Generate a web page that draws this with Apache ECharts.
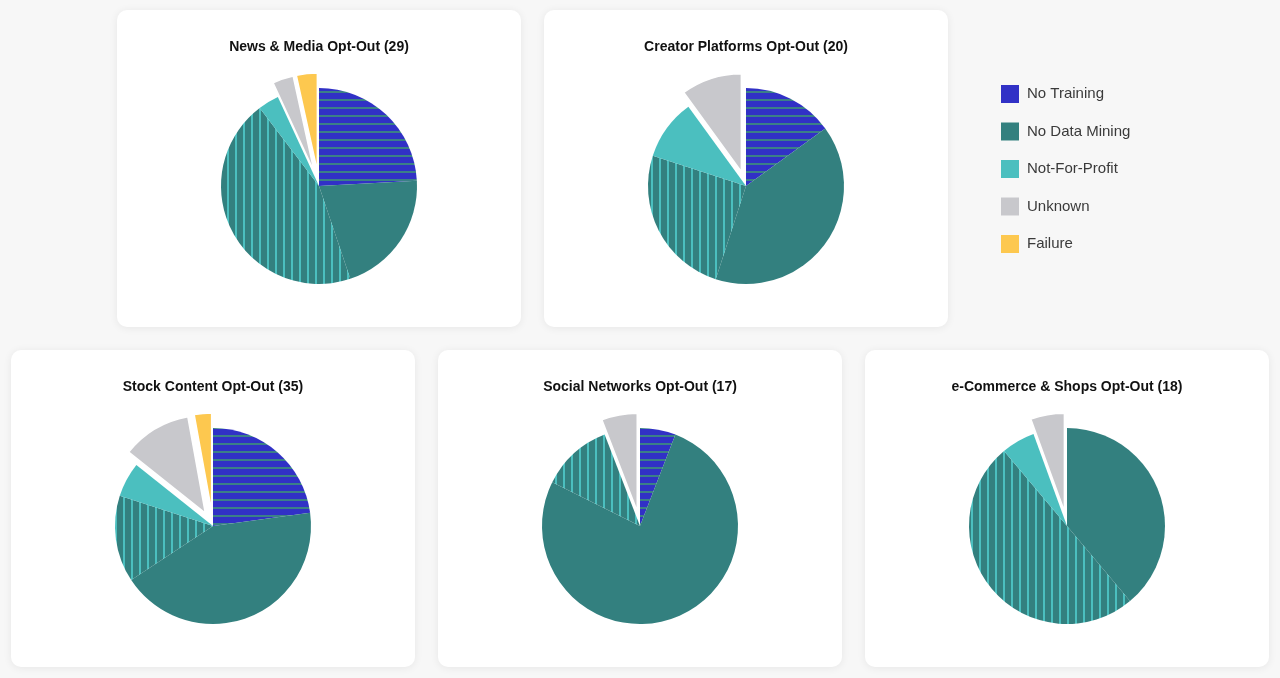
<!DOCTYPE html>
<html>
<head>
<meta charset="utf-8">
<script src="https://cdn.jsdelivr.net/npm/echarts@6/dist/echarts.min.js"></script>
<style>
  html, body { margin: 0; padding: 0; background: #f7f7f7; }
  #main { width: 1280px; height: 678px; }
</style>
</head>
<body>
<div id="main"></div>
<script>
// 每个饼图的标题和计数
var titles = ['News & Media Opt-Out (29)', 'Creator Platforms Opt-Out (20)', 'Stock Content Opt-Out (35)', 'Social Networks Opt-Out (17)', 'e-Commerce & Shops Opt-Out (18)'];
var legendNames = ['No Training', 'No Data Mining', 'Not-For-Profit', 'Unknown', 'Failure'];
var noTraining = [7, 3, 8, 1, 0];
var noDataMining = [6, 8, 15, 13, 7];
var noDataMiningNfp = [13, 5, 5, 2, 9];
var notForProfit = [1, 2, 2, 0, 1];
var unknown = [1, 2, 4, 1, 1];
var failure = [1, 0, 1, 0, 0];

var BLUE = '#3131c6', TEAL = '#33807f', LIGHT = '#4bbfbf', GRAY = '#c8c8cc', YELLOW = '#fdc84f';
var legendColors = [BLUE, TEAL, LIGHT, GRAY, YELLOW];

// 条纹填充
function stripes(base, line, vertical){
	var c = document.createElement('canvas');
	c.width = 8; c.height = 8;
	var ctx = c.getContext('2d');
	ctx.fillStyle = base; ctx.fillRect(0, 0, 8, 8);
	ctx.fillStyle = line;
	if(vertical){ ctx.fillRect(3, 0, 2, 8); } else { ctx.fillRect(0, 3, 8, 2); }
	return {image: c, repeat: 'repeat'};
}
var blueStripe = stripes(BLUE, '#3b8087', false);
var tealStripe = stripes(TEAL, LIGHT, true);

// 卡片位置
var cards = [
	{x: 117, y: 10}, {x: 544, y: 10},
	{x: 11, y: 350}, {x: 438, y: 350}, {x: 865, y: 350}
];
var CW = 404, CH = 317;

var graphics = [], titleList = [], series = [];
var exploded = {borderColor: '#fff', borderWidth: 1.5};
for(var i = 0; i < cards.length; i++){
	var c = cards[i];
	var cx = c.x + CW / 2;
	graphics.push({
		type: 'rect', z: 0,
		shape: {x: c.x, y: c.y, width: CW, height: CH, r: 10},
		style: {fill: '#fff', shadowBlur: 8, shadowColor: 'rgba(0,0,0,0.07)', shadowOffsetY: 1}
	});
	titleList.push({
		text: titles[i], left: cx, top: c.y + 30, textAlign: 'center', padding: 0,
		textStyle: {fontFamily: 'Liberation Sans', fontSize: 14, fontWeight: 'bold', color: '#111'}
	});
	var items = [
		{name: 'No Training', value: noTraining[i], itemStyle: {color: blueStripe}},
		{name: 'No Data Mining', value: noDataMining[i], itemStyle: {color: TEAL}},
		{name: 'No Data Mining + Not-For-Profit', value: noDataMiningNfp[i], itemStyle: {color: tealStripe}},
		{name: 'Not-For-Profit', value: notForProfit[i], itemStyle: {color: LIGHT}},
		{name: 'Unknown', value: unknown[i], selected: true,
			itemStyle: {color: GRAY, borderColor: exploded.borderColor, borderWidth: exploded.borderWidth}},
		{name: 'Failure', value: failure[i], selected: true,
			itemStyle: {color: YELLOW, borderColor: exploded.borderColor, borderWidth: exploded.borderWidth}}
	];
	// 去掉为0的扇区
	var data = [];
	for(var j = 0; j < items.length; j++){
		if(items[j].value > 0){ data.push(items[j]); }
	}
	series.push({
		type: 'pie',
		center: [cx, c.y + 176],
		radius: [0, 98],
		startAngle: 90,
		selectedMode: 'multiple',
		selectedOffset: 15,
		label: {show: false},
		labelLine: {show: false},
		emphasis: {disabled: true},
		animation: false,
		data: data
	});
}

var legendData = [];
for(var k = 0; k < legendNames.length; k++){
	legendData.push({name: legendNames[k], itemStyle: {color: legendColors[k], borderWidth: 0}});
}

var myChart = echarts.init(document.getElementById('main'));
myChart.setOption({
	backgroundColor: '#f7f7f7',
	animation: false,
	title: titleList,
	graphic: graphics,
	legend: {
		orient: 'vertical',
		left: 1001,
		top: 85,
		padding: 0,
		itemWidth: 18,
		itemHeight: 18,
		itemGap: 19.5,
		icon: 'rect',
		selectedMode: false,
		textStyle: {fontFamily: 'Liberation Sans', fontSize: 15, color: '#3a3a3a', padding: [0, 0, 0, 3]},
		data: legendData
	},
	series: series
});
</script>
</body>
</html>
